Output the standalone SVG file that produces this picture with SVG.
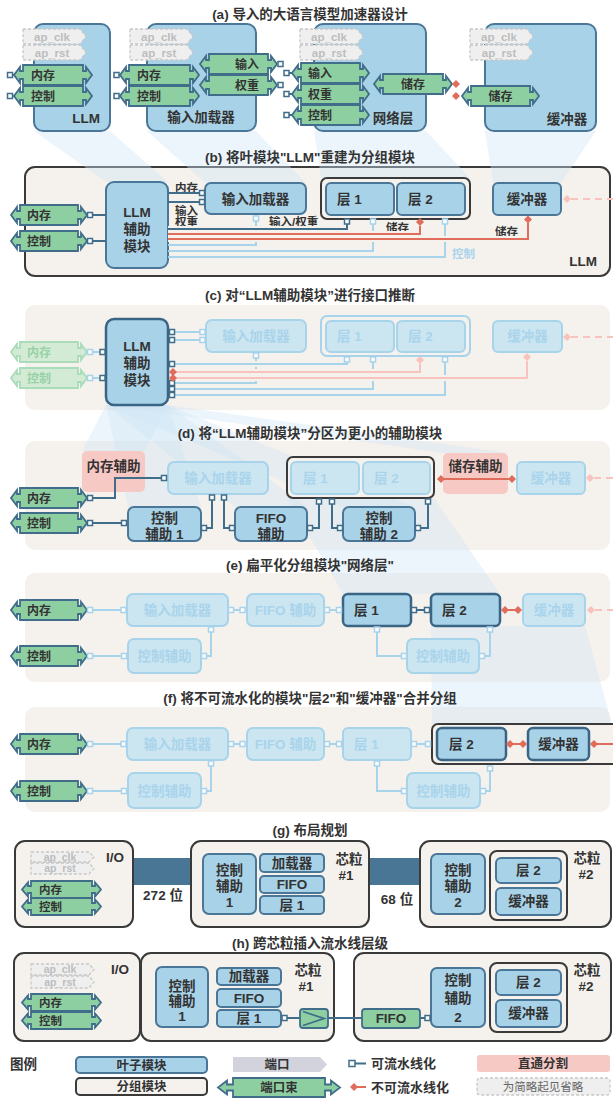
<svg xmlns="http://www.w3.org/2000/svg" width="613" height="1101" viewBox="0 0 613 1101">
<defs>
<style>
text{font-family:"Liberation Sans","Noto Sans CJK SC",sans-serif;font-weight:bold;fill:#333;font-size:13.5px}
.ttl{text-anchor:middle}
.mid{text-anchor:middle}
.end{text-anchor:end}
.bt{font-size:12px}
.sm{font-size:11.5px}
.ft{fill:#a9d4eb}
.fgt{fill:#97d1a6}
.apt{font-size:11.5px;fill:#bdbdbd;text-anchor:middle}
.apt2{font-size:10.5px;fill:#bdbdbd;text-anchor:middle}
.leaf{fill:#a8d2e8;stroke:#4a7797;stroke-width:2}
.hl{fill:#a8d2e8;stroke:#3b6585;stroke-width:2.5}
.grp{fill:#f5f2ee;stroke:#3a3a3a;stroke-width:2}
.panel{fill:#f5f1ec}
.fleaf{fill:#cce6f1;stroke:#a7d3eb;stroke-width:2}
.fgrp{fill:none;stroke:#a7d3eb;stroke-width:2}
.bund{fill:#8ecfa1;stroke:#3f6d8a;stroke-width:1.8}
.fbund{fill:#d3ebd5;stroke:#a9dcb8;stroke-width:1.8}
.ap{fill:#efefef;stroke:#c8c8c8;stroke-width:1.3;stroke-dasharray:3 2}
.pink{fill:#f7c9c4}
.wedge{fill:#cfe5f6;opacity:0.4}
.ln{fill:none;stroke:#3f6d8a;stroke-width:2}
.lf{fill:none;stroke:#a7d3eb;stroke-width:2}
.lr{fill:none;stroke:#e06c5c;stroke-width:2}
.lp{fill:none;stroke:#f8c3bc;stroke-width:2}
.dash{stroke-dasharray:7 5}
.halo{fill:none;stroke:#f5f2ee;stroke-width:6}
.pq{fill:#fff;stroke:#3f6d8a;stroke-width:1.5}
.fpq{fill:#fff;stroke:#a7d3eb;stroke-width:1.5}
.dm{fill:#e06c5c}
.fdm{fill:#f8c3bc}
.bar{fill:#4a7696}
</style>
<path id="dia" d="M0,-4 L4,0 L0,4 L-4,0 Z"/>
</defs>
<rect width="613" height="1101" fill="#fff"/>

<g id="backgrounds">
<rect class="bar" x="133" y="858" width="59" height="27"/>
<rect class="bar" x="369" y="858" width="51" height="27"/>
<rect class="panel" x="25" y="305" width="585" height="105" rx="10"/>
<rect class="panel" x="25" y="441" width="585" height="109" rx="10"/>
<rect class="panel" x="25" y="573" width="585" height="109" rx="10"/>
<rect class="panel" x="25" y="707" width="585" height="105" rx="10"/>
</g>

<g id="b-llm-group">
<rect class="grp" x="25" y="167" width="585" height="109" rx="10"/>
<text class="end" x="597" y="266">LLM</text>
</g>

<g id="wedges">
<polygon class="wedge" points="34,131 110,131 168,182 106,182"/>
<polygon class="wedge" points="147,131 256,131 306,183 205,183"/>
<polygon class="wedge" points="314,131 426,131 470,178 321,178"/>
<polygon class="wedge" points="485,131 596,131 561,183 493,183"/>
<polygon class="wedge" points="106,405 168,405 145,451 82,451"/>
<polygon class="wedge" points="106,405 168,405 201,507 128,507"/>
<polygon class="wedge" points="106,405 168,405 307,507 235,507"/>
<polygon class="wedge" points="106,405 168,405 415,507 343,507"/>
<polygon class="wedge" points="106,405 168,405 508,453 443,453"/>
<polygon class="wedge" points="287,498 434,498 500,594 343,594"/>
<polygon class="wedge" points="431,626 585,626 612,724 432,724"/>
</g>

<!-- (a) -->
<g id="a-llm">
<rect class="leaf" x="34" y="24" width="76" height="107" rx="9"/>
<text class="end" x="100" y="123">LLM</text>
<polygon class="ap" points="23,29 80,29 86,36.5 80,44 23,44"/>
<text class="apt" x="52" y="41">ap_clk</text>
<polygon class="ap" points="23,45 80,45 86,52.5 80,60 23,60"/>
<text class="apt" x="52" y="57">ap_rst</text>
<path class="bund" d="M23,65 h60 v6 h3 v-4 l6,8 l-6,8 v-4 h-3 v6 h-60 v-6 h-3 v4 l-6,-8 l6,-8 v4 h3 z"/>
<text class="bt" x="31" y="79.5">内存</text>
<path class="bund" d="M23,86 h60 v6 h3 v-4 l6,8 l-6,8 v-4 h-3 v6 h-60 v-6 h-3 v4 l-6,-8 l6,-8 v4 h3 z"/>
<text class="bt" x="31" y="100.5">控制</text>
</g>
<g id="a-loader">
<rect class="leaf" x="147" y="24" width="109" height="107" rx="9"/>
<text class="mid" x="201" y="122">输入加载器</text>
<polygon class="ap" points="130,29 187,29 193,36.5 187,44 130,44"/>
<text class="apt" x="159" y="41">ap_clk</text>
<polygon class="ap" points="130,45 187,45 193,52.5 187,60 130,60"/>
<text class="apt" x="159" y="57">ap_rst</text>
<path class="bund" d="M129,65 h61 v6 h3 v-4 l6,8 l-6,8 v-4 h-3 v6 h-61 v-6 h-3 v4 l-6,-8 l6,-8 v4 h3 z"/>
<text class="bt" x="137" y="79.5">内存</text>
<path class="bund" d="M129,86 h61 v6 h3 v-4 l6,8 l-6,8 v-4 h-3 v6 h-61 v-6 h-3 v4 l-6,-8 l6,-8 v4 h3 z"/>
<text class="bt" x="137" y="100.5">控制</text>
<path class="bund" d="M209,54 h59 v6 h3 v-4 l6,8 l-6,8 v-4 h-3 v6 h-59 v-6 h-3 v4 l-6,-8 l6,-8 v4 h3 z"/>
<text class="bt end" x="259" y="68.5">输入</text>
<path class="bund" d="M209,75 h59 v6 h3 v-4 l6,8 l-6,8 v-4 h-3 v6 h-59 v-6 h-3 v4 l-6,-8 l6,-8 v4 h3 z"/>
<text class="bt end" x="259" y="89.5">权重</text>
</g>
<g id="a-network">
<rect class="leaf" x="314" y="24" width="112" height="107" rx="9"/>
<text class="mid" x="393" y="123">网络层</text>
<polygon class="ap" points="300,29 357,29 363,36.5 357,44 300,44"/>
<text class="apt" x="329" y="41">ap_clk</text>
<polygon class="ap" points="300,45 357,45 363,52.5 357,60 300,60"/>
<text class="apt" x="329" y="57">ap_rst</text>
<path class="bund" d="M301,63 h59 v6 h3 v-4 l6,8 l-6,8 v-4 h-3 v6 h-59 v-6 h-3 v4 l-6,-8 l6,-8 v4 h3 z"/>
<text class="bt" x="308" y="77.5">输入</text>
<path class="bund" d="M301,84 h59 v6 h3 v-4 l6,8 l-6,8 v-4 h-3 v6 h-59 v-6 h-3 v4 l-6,-8 l6,-8 v4 h3 z"/>
<text class="bt" x="308" y="98.5">权重</text>
<path class="bund" d="M301,105 h59 v6 h3 v-4 l6,8 l-6,8 v-4 h-3 v6 h-59 v-6 h-3 v4 l-6,-8 l6,-8 v4 h3 z"/>
<text class="bt" x="308" y="119.5">控制</text>
<path class="bund" d="M383,74 h60 v6 h3 v-4 l6,8 l-6,8 v-4 h-3 v6 h-60 v-6 h-3 v4 l-6,-8 l6,-8 v4 h3 z"/>
<text class="bt mid" x="413" y="88.5">储存</text>
</g>
<g id="a-buffer">
<rect class="leaf" x="485" y="24" width="111" height="107" rx="9"/>
<text class="mid" x="567" y="124">缓冲器</text>
<polygon class="ap" points="470,29 527,29 533,36.5 527,44 470,44"/>
<text class="apt" x="499" y="41">ap_clk</text>
<polygon class="ap" points="470,45 527,45 533,52.5 527,60 470,60"/>
<text class="apt" x="499" y="57">ap_rst</text>
<path class="bund" d="M471,86 h59 v6 h3 v-4 l6,8 l-6,8 v-4 h-3 v6 h-59 v-6 h-3 v4 l-6,-8 l6,-8 v4 h3 z"/>
<text class="bt mid" x="500.5" y="100.5">储存</text>
</g>

<!-- (b) -->
<g id="b-bundles">
<path class="bund" d="M20,205 h58 v6 h3 v-4 l6,8 l-6,8 v-4 h-3 v6 h-58 v-6 h-3 v4 l-6,-8 l6,-8 v4 h3 z"/>
<text class="bt" x="27" y="219.5">内存</text>
<path class="bund" d="M20,231 h58 v6 h3 v-4 l6,8 l-6,8 v-4 h-3 v6 h-58 v-6 h-3 v4 l-6,-8 l6,-8 v4 h3 z"/>
<text class="bt" x="27" y="245.5">控制</text>
</g>
<g id="b-llm-aux">
<rect class="leaf" x="106" y="182" width="62" height="86" rx="8"/>
<text class="mid" x="137" y="217">LLM</text>
<text class="mid" x="137" y="234">辅助</text>
<text class="mid" x="137" y="251">模块</text>
</g>
<g id="b-loader">
<rect class="leaf" x="205" y="183" width="101" height="31" rx="6"/>
<text class="mid" x="255.5" y="203.5">输入加载器</text>
</g>
<g id="b-network">
<rect class="grp" x="321" y="178" width="149" height="41" rx="6"/>
<rect class="leaf" x="326" y="183" width="68" height="32" rx="5"/>
<text x="337" y="204">层 1</text>
<rect class="leaf" x="397" y="183" width="68" height="32" rx="5"/>
<text x="408" y="204">层 2</text>
</g>
<g id="b-buffer">
<rect class="leaf" x="493" y="183" width="68" height="32" rx="5"/>
<text class="mid" x="527" y="204">缓冲器</text>
</g>
<g id="b-labels">
<text class="sm" x="175" y="192">内存</text>
<text class="sm" x="175" y="215">输入</text>
<text class="sm" x="175" y="226">权重</text>
<text class="sm" x="269" y="226">输入/权重</text>
<text class="sm" x="386" y="232">储存</text>
<text class="sm" x="495" y="236">储存</text>
<text class="sm ft" x="452" y="258">控制</text>
</g>

<!-- (c) -->
<g id="c-bundles">
<path class="fbund" d="M20,342 h58 v6 h3 v-4 l6,8 l-6,8 v-4 h-3 v6 h-58 v-6 h-3 v4 l-6,-8 l6,-8 v4 h3 z"/>
<text class="bt fgt" x="27" y="356.5">内存</text>
<path class="fbund" d="M20,368 h58 v6 h3 v-4 l6,8 l-6,8 v-4 h-3 v6 h-58 v-6 h-3 v4 l-6,-8 l6,-8 v4 h3 z"/>
<text class="bt fgt" x="27" y="382.5">控制</text>
</g>
<g id="c-llm-aux">
<rect class="hl" x="106" y="319" width="62" height="86" rx="8"/>
<text class="mid" x="137" y="351">LLM</text>
<text class="mid" x="137" y="368">辅助</text>
<text class="mid" x="137" y="385">模块</text>
</g>
<g id="c-loader">
<rect class="fleaf" x="206" y="320" width="100" height="32" rx="6"/>
<text class="mid ft" x="256" y="341">输入加载器</text>
</g>
<g id="c-network">
<rect class="fgrp" x="321" y="316" width="149" height="40" rx="6"/>
<rect class="fleaf" x="326" y="321" width="68" height="31" rx="5"/>
<text class="ft" x="337" y="341">层 1</text>
<rect class="fleaf" x="397" y="321" width="68" height="31" rx="5"/>
<text class="ft" x="408" y="341">层 2</text>
</g>
<g id="c-buffer">
<rect class="fleaf" x="493" y="321" width="69" height="31" rx="5"/>
<text class="mid ft" x="527.5" y="341">缓冲器</text>
</g>

<!-- (d) -->
<g id="d-mem-aux">
<rect class="pink" x="82" y="451" width="63" height="41" rx="5"/>
<text class="mid" x="113.5" y="470.5">内存辅助</text>
</g>
<g id="d-store-aux">
<rect class="pink" x="443" y="453" width="65" height="41" rx="5"/>
<text class="mid" x="475.5" y="470.5">储存辅助</text>
</g>
<g id="d-bundles">
<path class="bund" d="M20,488 h58 v6 h3 v-4 l6,8 l-6,8 v-4 h-3 v6 h-58 v-6 h-3 v4 l-6,-8 l6,-8 v4 h3 z"/>
<text class="bt" x="27" y="502.5">内存</text>
<path class="bund" d="M20,513 h58 v6 h3 v-4 l6,8 l-6,8 v-4 h-3 v6 h-58 v-6 h-3 v4 l-6,-8 l6,-8 v4 h3 z"/>
<text class="bt" x="27" y="527.5">控制</text>
</g>
<g id="d-loader">
<rect class="fleaf" x="168" y="462" width="100" height="32" rx="6"/>
<text class="mid ft" x="218" y="483">输入加载器</text>
</g>
<g id="d-network">
<rect class="grp" x="287" y="457" width="147" height="41" rx="6"/>
<rect class="fleaf" x="291" y="462" width="68" height="32" rx="5"/>
<text class="ft" x="303" y="483">层 1</text>
<rect class="fleaf" x="363" y="462" width="67" height="32" rx="5"/>
<text class="ft" x="374" y="483">层 2</text>
</g>
<g id="d-buffer">
<rect class="fleaf" x="517" y="462" width="68" height="32" rx="5"/>
<text class="mid ft" x="551" y="483">缓冲器</text>
</g>
<g id="d-ctrl1">
<rect class="leaf" x="128" y="507" width="73" height="34" rx="6"/>
<text class="mid" x="164.5" y="523">控制</text>
<text class="mid" x="164.5" y="538.5">辅助 1</text>
</g>
<g id="d-fifo">
<rect class="leaf" x="235" y="507" width="72" height="34" rx="6"/>
<text class="mid" x="271" y="523">FIFO</text>
<text class="mid" x="271" y="538.5">辅助</text>
</g>
<g id="d-ctrl2">
<rect class="leaf" x="343" y="507" width="72" height="34" rx="6"/>
<text class="mid" x="379" y="523">控制</text>
<text class="mid" x="379" y="538.5">辅助 2</text>
</g>

<!-- (e) -->
<g id="e-bundles">
<path class="bund" d="M20,600 h58 v6 h3 v-4 l6,8 l-6,8 v-4 h-3 v6 h-58 v-6 h-3 v4 l-6,-8 l6,-8 v4 h3 z"/>
<text class="bt" x="27" y="614.5">内存</text>
<path class="bund" d="M20,646 h58 v6 h3 v-4 l6,8 l-6,8 v-4 h-3 v6 h-58 v-6 h-3 v4 l-6,-8 l6,-8 v4 h3 z"/>
<text class="bt" x="27" y="660.5">控制</text>
</g>
<g id="e-loader"><rect class="fleaf" x="127" y="594" width="101" height="32" rx="6"/><text class="mid ft" x="177.5" y="615">输入加载器</text></g>
<g id="e-fifo"><rect class="fleaf" x="247" y="594" width="77" height="32" rx="6"/><text class="mid ft" x="285.5" y="615">FIFO 辅助</text></g>
<g id="e-layer1"><rect class="hl" x="343" y="594" width="68" height="32" rx="5"/><text x="354" y="615">层 1</text></g>
<g id="e-layer2"><rect class="hl" x="431" y="594" width="69" height="32" rx="5"/><text x="442" y="615">层 2</text></g>
<g id="e-buffer"><rect class="fleaf" x="523" y="594" width="62" height="32" rx="5"/><text class="mid ft" x="554" y="615">缓冲器</text></g>
<g id="e-ctrl1"><rect class="fleaf" x="128" y="639" width="73" height="34" rx="6"/><text class="mid ft" x="164.5" y="660.5">控制辅助</text></g>
<g id="e-ctrl2"><rect class="fleaf" x="407" y="639" width="72" height="34" rx="6"/><text class="mid ft" x="443" y="660.5">控制辅助</text></g>

<!-- (f) -->
<g id="f-bundles">
<path class="bund" d="M20,734 h58 v6 h3 v-4 l6,8 l-6,8 v-4 h-3 v6 h-58 v-6 h-3 v4 l-6,-8 l6,-8 v4 h3 z"/>
<text class="bt" x="27" y="748.5">内存</text>
<path class="bund" d="M20,781 h58 v6 h3 v-4 l6,8 l-6,8 v-4 h-3 v6 h-58 v-6 h-3 v4 l-6,-8 l6,-8 v4 h3 z"/>
<text class="bt" x="27" y="795.5">控制</text>
</g>
<g id="f-loader"><rect class="fleaf" x="127" y="728" width="101" height="32" rx="6"/><text class="mid ft" x="177.5" y="749">输入加载器</text></g>
<g id="f-fifo"><rect class="fleaf" x="247" y="728" width="77" height="32" rx="6"/><text class="mid ft" x="285.5" y="749">FIFO 辅助</text></g>
<g id="f-layer1"><rect class="fleaf" x="343" y="728" width="68" height="32" rx="5"/><text class="ft" x="354" y="749">层 1</text></g>
<g id="f-merged">
<rect class="grp" x="432" y="724" width="186" height="40" rx="6"/>
<rect class="hl" x="437" y="728" width="69" height="32" rx="5"/><text x="449" y="749">层 2</text>
<rect class="hl" x="528" y="728" width="61" height="32" rx="5"/><text class="mid" x="558.5" y="749">缓冲器</text>
</g>
<g id="f-ctrl1"><rect class="fleaf" x="128" y="773" width="73" height="35" rx="6"/><text class="mid ft" x="164.5" y="795.5">控制辅助</text></g>
<g id="f-ctrl2"><rect class="fleaf" x="407" y="773" width="73" height="35" rx="6"/><text class="mid ft" x="443.5" y="795.5">控制辅助</text></g>

<!-- (g) -->
<g id="g-io">
<rect class="grp" x="15" y="841" width="118" height="86" rx="10"/>
<text x="106" y="862">I/O</text>
<polygon class="ap" points="31,852 89,852 94,857 89,862 31,862"/>
<text class="apt2" x="60" y="860.5">ap_clk</text>
<polygon class="ap" points="31,863 89,863 94,868.5 89,874 31,874"/>
<text class="apt2" x="60" y="872">ap_rst</text>
<path class="bund" d="M31,881 h61 v5 h3 v-3.5 l6,7 l-6,7 v-3.5 h-3 v5 h-61 v-5 h-3 v3.5 l-6,-7 l6,-7 v3.5 h3 z"/>
<text class="sm" x="39" y="893.5">内存</text>
<path class="bund" d="M31,898 h61 v5 h3 v-3.5 l6,7 l-6,7 v-3.5 h-3 v5 h-61 v-5 h-3 v3.5 l-6,-7 l6,-7 v3.5 h3 z"/>
<text class="sm" x="39" y="910.5">控制</text>
</g>
<g id="g-bw">
<text class="mid" x="163" y="899.5">272 位</text>
<text class="mid" x="397" y="903.5">68 位</text>
</g>
<g id="g-chip1">
<rect class="grp" x="191" y="841" width="178" height="86" rx="10"/>
<text class="mid" x="349" y="863.5">芯粒</text>
<text class="mid" x="346" y="880">#1</text>
<rect class="leaf" x="203" y="854" width="53" height="60" rx="6"/>
<text class="mid" x="229.5" y="875">控制</text>
<text class="mid" x="229.5" y="891">辅助</text>
<text class="mid" x="229.5" y="907">1</text>
<rect class="leaf" x="260" y="854" width="64" height="18" rx="4"/>
<text class="mid" x="292" y="867.5">加载器</text>
<rect class="leaf" x="260" y="876" width="64" height="17" rx="4"/>
<text class="mid" x="292" y="889">FIFO</text>
<rect class="leaf" x="260" y="896" width="64" height="18" rx="4"/>
<text class="mid" x="292" y="909.5">层 1</text>
</g>
<g id="g-chip2">
<rect class="grp" x="420" y="841" width="191" height="86" rx="10"/>
<text class="mid" x="587" y="863">芯粒</text>
<text class="mid" x="586" y="879">#2</text>
<rect class="leaf" x="431" y="854" width="54" height="60" rx="6"/>
<text class="mid" x="458" y="875">控制</text>
<text class="mid" x="458" y="891">辅助</text>
<text class="mid" x="458" y="907">2</text>
<rect class="grp" x="490" y="851" width="77" height="69" rx="7"/>
<rect class="leaf" x="496" y="858" width="65" height="25" rx="5"/>
<text class="mid" x="528.5" y="875">层 2</text>
<rect class="leaf" x="496" y="888" width="65" height="27" rx="5"/>
<text class="mid" x="528.5" y="906">缓冲器</text>
</g>

<!-- (h) -->
<g id="h-io">
<rect class="grp" x="14" y="953" width="126" height="88" rx="10"/>
<text x="111" y="974">I/O</text>
<polygon class="ap" points="31,964 89,964 94,969.5 89,975 31,975"/>
<text class="apt2" x="60" y="973">ap_clk</text>
<polygon class="ap" points="31,976 89,976 94,982 89,988 31,988"/>
<text class="apt2" x="60" y="985.5">ap_rst</text>
<path class="bund" d="M31,994 h61 v5 h3 v-3.5 l6,7 l-6,7 v-3.5 h-3 v5 h-61 v-5 h-3 v3.5 l-6,-7 l6,-7 v3.5 h3 z"/>
<text class="sm" x="39" y="1006.5">内存</text>
<path class="bund" d="M31,1012 h61 v5 h3 v-3.5 l6,7 l-6,7 v-3.5 h-3 v5 h-61 v-5 h-3 v3.5 l-6,-7 l6,-7 v3.5 h3 z"/>
<text class="sm" x="39" y="1024.5">控制</text>
</g>
<g id="h-chip1">
<rect class="grp" x="141" y="953" width="193" height="88" rx="10"/>
<text class="mid" x="308" y="975">芯粒</text>
<text class="mid" x="306" y="991">#1</text>
<rect class="leaf" x="156" y="967" width="52" height="60" rx="6"/>
<text class="mid" x="182" y="991">控制</text>
<text class="mid" x="182" y="1006">辅助</text>
<text class="mid" x="182" y="1021">1</text>
<rect class="leaf" x="217" y="968" width="64" height="17" rx="4"/>
<text class="mid" x="249" y="981">加载器</text>
<rect class="leaf" x="217" y="989" width="64" height="18" rx="4"/>
<text class="mid" x="249" y="1002.5">FIFO</text>
<rect class="leaf" x="217" y="1010" width="64" height="17" rx="4"/>
<text class="mid" x="249" y="1023">层 1</text>
</g>
<g id="h-chip2">
<rect class="grp" x="354" y="953" width="257" height="88" rx="10"/>
<text class="mid" x="587" y="975">芯粒</text>
<text class="mid" x="586" y="991">#2</text>
<rect class="leaf" x="431" y="968" width="54" height="59" rx="6"/>
<text class="mid" x="458" y="985">控制</text>
<text class="mid" x="458" y="1003">辅助</text>
<text class="mid" x="458" y="1022">2</text>
<rect class="grp" x="490" y="963" width="77" height="69" rx="7"/>
<rect class="leaf" x="496" y="970" width="65" height="25" rx="5"/>
<text class="mid" x="528.5" y="987">层 2</text>
<rect class="leaf" x="496" y="1000" width="65" height="27" rx="5"/>
<text class="mid" x="528.5" y="1018">缓冲器</text>
</g>
<g id="h-fifo">
<rect class="bund" x="362" y="1009" width="58" height="19" rx="3"/>
<text class="mid" x="391" y="1023">FIFO</text>
</g>
<g id="h-register">
<rect class="bund" x="300" y="1009" width="28" height="19" rx="3"/>
<polyline points="303,1011.5 324,1018.5 303,1025.5" fill="none" stroke="#3f6d8a" stroke-width="1.8"/>
</g>

<!-- connectors -->
<g id="connectors">
<path class="ln" d="M12.5,75 H15 M12.5,96 H15 M119,75 H121 M119,96 H121 M289,73 H292 M289,94 H292 M289,115 H292"/>
<path class="ln" d="M92.5,215 H106 M92.5,241 H106 M168,193 H199.5 M168,202 H199.5"/>
<path class="lf" d="M168,245 H256 V221"/>
<path class="lf" d="M168,251 H373 V224"/>
<path class="lf" d="M168,257 H445 V224"/>
<path class="halo" d="M168,229 H347 V224"/>
<path class="ln" d="M168,229 H347 V224"/>
<path class="halo" d="M168,234 H420 V226"/>
<path class="lr" d="M168,234 H420 V226"/>
<path class="halo" d="M168,239 H528 V223"/>
<path class="lr" d="M168,239 H528 V223"/>
<path class="lp dash" d="M571,199 H613"/>
<path class="lf" d="M92.5,352 H100 M92.5,378 H100 M174.5,332 H200 M174.5,340 H200"/>
<path class="lf" d="M174.5,383 H256 V358"/>
<path class="lf" d="M174.5,389 H373 V362"/>
<path class="lf" d="M174.5,395 H445 V362"/>
<path class="halo" style="stroke:#f5f1ec" d="M176,364 H347 V362"/>
<path class="lf" d="M174.5,364 H347 V362"/>
<path class="halo" style="stroke:#f5f1ec" d="M176,372 H420 V364"/>
<path class="lp" d="M174.5,372 H420 V364"/>
<path class="halo" style="stroke:#f5f1ec" d="M176,378 H527 V361"/>
<path class="lp" d="M174.5,378 H527 V361"/>
<path class="lp dash" d="M571,337 H613"/>
<path class="ln" d="M92.5,498 H115 V478 H161.5"/>
<path class="ln" d="M92.5,523 H121.5"/>
<path class="ln" d="M206.5,528 H212 V500"/>
<path class="ln" d="M229.5,528 H224 V500"/>
<path class="ln" d="M312.5,528 H319 V504"/>
<path class="ln" d="M337.5,528 H332 V504"/>
<path class="ln" d="M420.5,528 H428 V504"/>
<path class="lr" d="M441,479 H512"/>
<path class="lp dash" d="M594,478 H613"/>
<path class="lf" d="M92.5,610 H121 M233.5,610 H240 M329.5,610 H336.5"/>
<path class="ln" d="M416.5,610 H424.5"/>
<path class="lr" d="M505,610 H518"/>
<path class="lp dash" d="M595,610 H613"/>
<path class="lf" d="M92.5,656 H121.5"/>
<path class="lf" d="M211,632 V656 H206.5"/>
<path class="lf" d="M377,632 V656 H401.5"/>
<path class="lf" d="M484.5,656 H490 V632"/>
<path class="lf" d="M92.5,744 H121 M233.5,744 H240 M329.5,744 H336.5 M416.5,744 H425.5"/>
<path class="lr" d="M510,744 H523 M594,744 H613"/>
<path class="lf" d="M92.5,791 H121.5"/>
<path class="lf" d="M211,766 V791 H206.5"/>
<path class="lf" d="M377,766 V791 H401.5"/>
<path class="lf" d="M485.5,791 H490 V771"/>
<path class="ln" d="M287,1018 H300 M328,1018 H362 M420,1018 H425"/>
</g>

<g id="ports">
<rect class="pq" x="7.5" y="72.5" width="5" height="5"/>
<rect class="pq" x="7.5" y="93.5" width="5" height="5"/>
<rect class="pq" x="114" y="72.5" width="5" height="5"/>
<rect class="pq" x="114" y="93.5" width="5" height="5"/>
<rect class="pq" x="278" y="61.5" width="5" height="5"/>
<rect class="pq" x="278" y="82.5" width="5" height="5"/>
<rect class="pq" x="284" y="70.5" width="5" height="5"/>
<rect class="pq" x="284" y="91.5" width="5" height="5"/>
<rect class="pq" x="284" y="112.5" width="5" height="5"/>
<use href="#dia" x="456" y="84" class="dm"/>
<use href="#dia" x="456" y="96" class="dm"/>
<rect class="pq" x="87.5" y="212.5" width="5" height="5"/>
<rect class="pq" x="87.5" y="238.5" width="5" height="5"/>
<rect class="pq" x="199.5" y="190.5" width="5" height="5"/>
<rect class="pq" x="199.5" y="199.5" width="5" height="5"/>
<rect class="fpq" x="253.5" y="216" width="5" height="5"/>
<rect class="pq" x="344.5" y="219" width="5" height="5"/>
<rect class="fpq" x="370.5" y="219" width="5" height="5"/>
<rect class="fpq" x="442.5" y="219" width="5" height="5"/>
<use href="#dia" x="420" y="222" class="dm"/>
<use href="#dia" x="528" y="219.5" class="dm"/>
<use href="#dia" x="567" y="199" class="fdm"/>
<rect class="fpq" x="87.5" y="349.5" width="5" height="5"/>
<rect class="fpq" x="87.5" y="375.5" width="5" height="5"/>
<rect class="pq" x="100" y="349.5" width="5" height="5"/>
<rect class="pq" x="100" y="375.5" width="5" height="5"/>
<rect class="pq" x="169.5" y="329.5" width="5" height="5"/>
<rect class="pq" x="169.5" y="337.5" width="5" height="5"/>
<rect class="pq" x="169.5" y="361.5" width="5" height="5"/>
<rect class="pq" x="169.5" y="380.5" width="5" height="5"/>
<rect class="pq" x="169.5" y="386.5" width="5" height="5"/>
<rect class="pq" x="169.5" y="392.5" width="5" height="5"/>
<use href="#dia" x="173" y="372" class="dm"/>
<use href="#dia" x="173" y="378" class="dm"/>
<rect class="fpq" x="200" y="329.5" width="5" height="5"/>
<rect class="fpq" x="200" y="337.5" width="5" height="5"/>
<rect class="fpq" x="253.5" y="353" width="5" height="5"/>
<rect class="fpq" x="344.5" y="357" width="5" height="5"/>
<rect class="fpq" x="370.5" y="357" width="5" height="5"/>
<rect class="fpq" x="442.5" y="357" width="5" height="5"/>
<use href="#dia" x="420" y="360" class="fdm"/>
<use href="#dia" x="527" y="357" class="fdm"/>
<use href="#dia" x="567" y="337" class="fdm"/>
<rect class="pq" x="87.5" y="495.5" width="5" height="5"/>
<rect class="pq" x="87.5" y="520.5" width="5" height="5"/>
<rect class="pq" x="161.5" y="475.5" width="5" height="5"/>
<rect class="pq" x="121.5" y="520.5" width="5" height="5"/>
<rect class="pq" x="201.5" y="525.5" width="5" height="5"/>
<rect class="pq" x="209.5" y="495" width="5" height="5"/>
<rect class="pq" x="229.5" y="525.5" width="5" height="5"/>
<rect class="pq" x="221.5" y="495" width="5" height="5"/>
<rect class="pq" x="307.5" y="525.5" width="5" height="5"/>
<rect class="pq" x="316.5" y="499" width="5" height="5"/>
<rect class="pq" x="337.5" y="525.5" width="5" height="5"/>
<rect class="pq" x="329.5" y="499" width="5" height="5"/>
<rect class="pq" x="415.5" y="525.5" width="5" height="5"/>
<rect class="pq" x="425.5" y="499" width="5" height="5"/>
<use href="#dia" x="441" y="479" class="dm"/>
<use href="#dia" x="512" y="479" class="dm"/>
<use href="#dia" x="590" y="478" class="fdm"/>
<rect class="fpq" x="87.5" y="607.5" width="5" height="5"/>
<rect class="fpq" x="121" y="607.5" width="5" height="5"/>
<rect class="fpq" x="228.5" y="607.5" width="5" height="5"/>
<rect class="fpq" x="240" y="607.5" width="5" height="5"/>
<rect class="fpq" x="324.5" y="607.5" width="5" height="5"/>
<rect class="fpq" x="336.5" y="607.5" width="5" height="5"/>
<rect class="pq" x="411.5" y="607.5" width="5" height="5"/>
<rect class="pq" x="424.5" y="607.5" width="5" height="5"/>
<use href="#dia" x="505" y="610" class="dm"/>
<use href="#dia" x="518" y="610" class="dm"/>
<use href="#dia" x="591" y="610" class="fdm"/>
<rect class="fpq" x="87.5" y="653.5" width="5" height="5"/>
<rect class="fpq" x="121.5" y="653.5" width="5" height="5"/>
<rect class="fpq" x="208.5" y="627" width="5" height="5"/>
<rect class="fpq" x="201.5" y="653.5" width="5" height="5"/>
<rect class="fpq" x="374.5" y="627" width="5" height="5"/>
<rect class="fpq" x="401.5" y="653.5" width="5" height="5"/>
<rect class="fpq" x="479.5" y="653.5" width="5" height="5"/>
<rect class="fpq" x="487.5" y="627" width="5" height="5"/>
<rect class="fpq" x="87.5" y="741.5" width="5" height="5"/>
<rect class="fpq" x="121" y="741.5" width="5" height="5"/>
<rect class="fpq" x="228.5" y="741.5" width="5" height="5"/>
<rect class="fpq" x="240" y="741.5" width="5" height="5"/>
<rect class="fpq" x="324.5" y="741.5" width="5" height="5"/>
<rect class="fpq" x="336.5" y="741.5" width="5" height="5"/>
<rect class="fpq" x="411.5" y="741.5" width="5" height="5"/>
<rect class="fpq" x="425.5" y="741.5" width="5" height="5"/>
<use href="#dia" x="510" y="744" class="dm"/>
<use href="#dia" x="523" y="744" class="dm"/>
<use href="#dia" x="594" y="744" class="dm"/>
<rect class="fpq" x="87.5" y="788.5" width="5" height="5"/>
<rect class="fpq" x="121.5" y="788.5" width="5" height="5"/>
<rect class="fpq" x="208.5" y="761" width="5" height="5"/>
<rect class="fpq" x="201.5" y="788.5" width="5" height="5"/>
<rect class="fpq" x="374.5" y="761" width="5" height="5"/>
<rect class="fpq" x="401.5" y="788.5" width="5" height="5"/>
<rect class="fpq" x="480.5" y="788.5" width="5" height="5"/>
<rect class="fpq" x="487.5" y="766" width="5" height="5"/>
<rect class="pq" x="282" y="1015.5" width="5" height="5"/>
<rect class="pq" x="425" y="1015.5" width="5" height="5"/>
</g>

<g id="legend">
<text x="10" y="1069">图例</text>
<rect class="leaf" x="76" y="1057" width="131" height="16" rx="4"/>
<text class="mid" x="141.5" y="1069.5" style="font-size:12.5px">叶子模块</text>
<rect class="grp" x="76" y="1078" width="131" height="17" rx="4"/>
<text class="mid" x="141.5" y="1091" style="font-size:12.5px">分组模块</text>
<polygon points="233,1057 320,1057 327,1064.5 320,1072 233,1072" fill="#d3d3dd"/>
<text class="mid" x="277" y="1069" style="font-size:12.5px">端口</text>
<path class="bund" d="M233,1078 h92 v6.5 h6 v-4 l9,7 l-9,7 v-4 h-6 v6.5 h-92 v-6.5 h-6 v4 l-9,-7 l9,-7 v4 h6 z"/>
<text class="mid" x="279" y="1091.5" style="font-size:12.5px">端口束</text>
<rect class="pq" x="349" y="1060.5" width="6" height="6"/>
<path class="ln" d="M355,1063.5 H366"/>
<text x="371" y="1068" style="font-size:13px">可流水线化</text>
<use href="#dia" x="354" y="1087" class="dm"/>
<path class="lr" d="M357,1087 H366"/>
<text x="371" y="1092" style="font-size:13px">不可流水线化</text>
<rect class="pink" x="477" y="1055" width="133" height="17" rx="3"/>
<text class="mid" x="543" y="1068" style="font-size:12.5px">直通分割</text>
<rect class="ap" x="477" y="1078" width="133" height="17" rx="3"/>
<text class="mid" x="543" y="1090.5" style="font-size:11.5px;fill:#666;font-weight:normal">为简略起见省略</text>
</g>

<g id="titles">
<text class="ttl" x="310" y="19">(a) 导入的大语言模型加速器设计</text>
<text class="ttl" x="310" y="162">(b) 将叶模块"LLM"重建为分组模块</text>
<text class="ttl" x="310" y="300">(c) 对“LLM辅助模块”进行接口推断</text>
<text class="ttl" x="310" y="438">(d) 将“LLM辅助模块”分区为更小的辅助模块</text>
<text class="ttl" x="310" y="570">(e) 扁平化分组模块"网络层"</text>
<text class="ttl" x="310" y="703">(f) 将不可流水化的模块"层2"和"缓冲器"合并分组</text>
<text class="ttl" x="310" y="835">(g) 布局规划</text>
<text class="ttl" x="310" y="948">(h) 跨芯粒插入流水线层级</text>
</g>
</svg>
